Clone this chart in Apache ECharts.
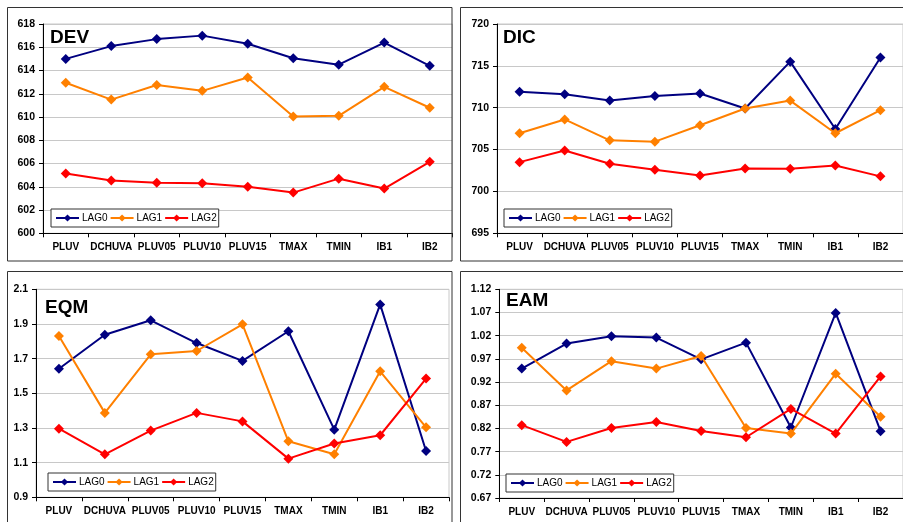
<!DOCTYPE html>
<html>
<head>
<meta charset="utf-8">
<script src="https://cdn.jsdelivr.net/npm/echarts@6/dist/echarts.min.js"></script>
<style>
  html, body { margin: 0; padding: 0; background: #fff; }
  #chart { width: 903px; height: 522px; }
</style>
</head>
<body>
<div id="chart"></div>
<script>
// Predictor sets compared in every panel
const categories = ['PLUV', 'DCHUVA', 'PLUV05', 'PLUV10', 'PLUV15', 'TMAX', 'TMIN', 'IB1', 'IB2'];
const lagNames = ['LAG0', 'LAG1', 'LAG2'];

// DEV
const devLag0 = [615.0, 616.1, 616.7, 617.0, 616.3, 615.05, 614.5, 616.4, 614.4];
const devLag1 = [612.95, 611.5, 612.75, 612.25, 613.4, 610.05, 610.1, 612.6, 610.8];
const devLag2 = [605.15, 604.55, 604.35, 604.3, 604.0, 603.5, 604.7, 603.85, 606.15];

// DIC
const dicLag0 = [711.9, 711.6, 710.85, 711.4, 711.7, 709.9, 715.5, 707.45, 716.0];
const dicLag1 = [706.95, 708.6, 706.1, 705.95, 707.9, 709.9, 710.85, 706.95, 709.7];
const dicLag2 = [703.5, 704.9, 703.3, 702.6, 701.9, 702.75, 702.7, 703.1, 701.8];

// EQM
const eqmLag0 = [1.642, 1.838, 1.921, 1.79, 1.687, 1.858, 1.29, 2.013, 1.167];
const eqmLag1 = [1.831, 1.387, 1.725, 1.744, 1.898, 1.223, 1.148, 1.627, 1.304];
const eqmLag2 = [1.296, 1.148, 1.285, 1.387, 1.338, 1.123, 1.21, 1.258, 1.585];

// EAM
const eamLag0 = [0.949, 1.003, 1.019, 1.016, 0.969, 1.005, 0.822, 1.069, 0.814];
const eamLag1 = [0.994, 0.902, 0.965, 0.949, 0.976, 0.821, 0.809, 0.938, 0.845];
const eamLag2 = [0.827, 0.791, 0.821, 0.834, 0.8145, 0.801, 0.862, 0.809, 0.932];

// Y axis ranges (min, max, step)
const devAxis = [600, 618, 2];
const dicAxis = [695, 720, 5];
const eqmAxis = [0.9, 2.1, 0.2];
const eamAxis = [0.67, 1.12, 0.05];

const lagColors = ['#000080', '#FF8000', '#FF0000'];
const FONT = 'Arial, "Liberation Sans", sans-serif';

const panels = [
  { title: 'DEV', data: [devLag0, devLag1, devLag2], axis: devAxis, digits: 0,
    grid: { left: 43, top: 24, width: 409.5, height: 209.3 },
    titlePos: { left: 50, top: 28 }, legendPos: { left: 51, top: 209 } },
  { title: 'DIC', data: [dicLag0, dicLag1, dicLag2], axis: dicAxis, digits: 0,
    grid: { left: 497, top: 24, width: 409.5, height: 209.3 },
    titlePos: { left: 503, top: 28 }, legendPos: { left: 504, top: 209 } },
  { title: 'EQM', data: [eqmLag0, eqmLag1, eqmLag2], axis: eqmAxis, digits: 1,
    grid: { left: 36, top: 289.3, width: 413, height: 208 },
    titlePos: { left: 45, top: 298 }, legendPos: { left: 48, top: 473 } },
  { title: 'EAM', data: [eamLag0, eamLag1, eamLag2], axis: eamAxis, digits: 2,
    grid: { left: 499.3, top: 289.3, width: 406, height: 208.7 },
    titlePos: { left: 506, top: 291 }, legendPos: { left: 506, top: 474 } }
];

const option = {
  backgroundColor: '#ffffff',
  animation: false,
  title: [], legend: [], grid: [], xAxis: [], yAxis: [], series: [],
  graphic: [
    // panel frames
    { type: 'rect', shape: { x: 7.5, y: 7.5, width: 444.5, height: 253.5 }, style: { fill: 'none', stroke: '#333', lineWidth: 1 }, z: 100 },
    { type: 'rect', shape: { x: 460.5, y: 7.5, width: 460, height: 253.5 }, style: { fill: 'none', stroke: '#333', lineWidth: 1 }, z: 100 },
    { type: 'rect', shape: { x: 7.5, y: 271.5, width: 444.5, height: 270 }, style: { fill: 'none', stroke: '#333', lineWidth: 1 }, z: 100 },
    { type: 'rect', shape: { x: 460.5, y: 271.5, width: 460, height: 270 }, style: { fill: 'none', stroke: '#333', lineWidth: 1 }, z: 100 }
  ]
};

panels.forEach((p, i) => {
  option.title.push({
    text: p.title, left: p.titlePos.left, top: p.titlePos.top, padding: 0,
    textStyle: { fontFamily: FONT, fontSize: 19, fontWeight: 'bold', color: '#000' }
  });
  option.grid.push(Object.assign({ show: true, borderColor: '#c8c8c8', borderWidth: 1, backgroundColor: '#fff' }, p.grid));
  option.xAxis.push({
    type: 'category', gridIndex: i, data: categories, boundaryGap: true,
    axisLine: { lineStyle: { color: '#000', width: 1 } },
    axisTick: { show: true, interval: 0, length: 4, lineStyle: { color: '#000' } },
    axisLabel: { interval: 0, margin: 9, fontFamily: FONT, fontSize: 10, fontWeight: 'bold', color: '#000' },
    splitLine: { show: false }
  });
  option.yAxis.push({
    type: 'value', gridIndex: i, min: p.axis[0], max: p.axis[1], interval: p.axis[2],
    axisLine: { show: true, lineStyle: { color: '#000', width: 1 } },
    axisTick: { show: true, length: 4, lineStyle: { color: '#000' } },
    axisLabel: { margin: 8, fontFamily: FONT, fontSize: 10.5, fontWeight: 'bold', color: '#000',
      formatter: v => Number(v).toFixed(p.digits) },
    splitLine: { show: true, lineStyle: { color: '#c8c8c8', width: 1 } }
  });
  p.data.forEach((vals, k) => {
    option.series.push({
      type: 'line', name: lagNames[k], xAxisIndex: i, yAxisIndex: i, data: vals,
      symbol: 'diamond', symbolSize: 10, showSymbol: true,
      lineStyle: { color: lagColors[k], width: 2 },
      itemStyle: { color: lagColors[k] },
      z: 3 + k
    });
  });
  option.legend.push({
    data: lagNames, left: p.legendPos.left, top: p.legendPos.top, orient: 'horizontal',
    padding: [4, 2, 4, 4], itemGap: 2, itemWidth: 23, itemHeight: 9,
    borderColor: '#333', borderWidth: 1, backgroundColor: '#fff', selectedMode: false,
    textStyle: { fontFamily: FONT, fontSize: 10, color: '#000', padding: [0, 0, 0, -2] }
  });
});

const chart = echarts.init(document.getElementById('chart'), null, { renderer: 'canvas' });
chart.setOption(option);
</script>
</body>
</html>
